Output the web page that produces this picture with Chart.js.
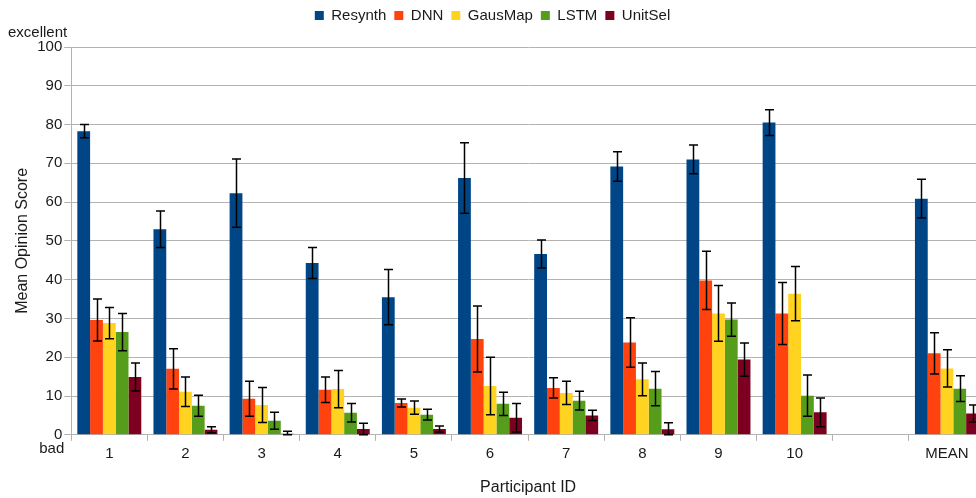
<!DOCTYPE html>
<html>
<head>
<meta charset="utf-8">
<script src="https://cdn.jsdelivr.net/npm/chart.js@4/dist/chart.umd.min.js"></script>
<style>
  html, body { margin: 0; padding: 0; background: #fff; overflow: hidden; }
  #wrap { width: 995px; height: 498px; }
</style>
</head>
<body>
<div id="wrap"><canvas id="mos" width="995" height="498"></canvas></div>
<script>
const participants = ['1', '2', '3', '4', '5', '6', '7', '8', '9', '10', '', 'MEAN'];

const resynth    = [78.3, 53.0, 62.3, 44.3, 35.5, 66.2, 46.6, 69.2, 71.0, 80.5, null, 60.9];
const resynthErr = [1.7, 4.7, 8.8, 4.0, 7.1, 9.1, 3.6, 3.8, 3.7, 3.3, null, 5.0];
const dnn        = [29.6, 17.0, 9.3, 11.6, 8.2, 24.7, 12.1, 23.8, 39.8, 31.3, null, 21.0];
const dnnErr     = [5.4, 5.2, 4.5, 3.3, 1.0, 8.5, 2.6, 6.4, 7.5, 8.0, null, 5.3];
const gausMap    = [28.8, 11.1, 7.7, 11.8, 7.0, 12.6, 10.8, 14.3, 31.3, 36.4, null, 17.1];
const gausMapErr = [4.0, 3.8, 4.5, 4.8, 1.7, 7.4, 3.0, 4.2, 7.2, 7.0, null, 4.8];
const lstm       = [26.5, 7.5, 3.6, 5.7, 5.2, 8.0, 8.8, 11.9, 29.7, 10.1, null, 11.9];
const lstmErr    = [4.8, 2.7, 2.2, 2.4, 1.4, 3.0, 2.4, 4.4, 4.3, 5.3, null, 3.3];
const unitSel    = [14.9, 1.3, 0.3, 1.5, 1.5, 4.4, 5.0, 1.4, 19.4, 5.8, null, 5.5];
const unitSelErr = [3.6, 0.8, 0.6, 1.5, 0.8, 3.7, 1.3, 1.7, 4.3, 3.7, null, 2.2];

const FONT = "'Liberation Sans', Arial, sans-serif";

// whiskers for +/- error, positioned with the y scale
const errorBars = {
  id: 'errorBars',
  afterDatasetsDraw(chart) {
    const ctx = chart.ctx;
    const y = chart.scales.y;
    ctx.save();
    ctx.strokeStyle = '#000';
    ctx.lineWidth = 1.5;
    chart.data.datasets.forEach((ds, i) => {
      const meta = chart.getDatasetMeta(i);
      meta.data.forEach((bar, j) => {
        const v = ds.data[j], e = ds.errors[j];
        if (v == null || e == null) return;
        const top = y.getPixelForValue(v + e);
        const bot = y.getPixelForValue(Math.max(0, v - e));
        const x = Math.round(bar.x) + 0.5;
        ctx.beginPath();
        ctx.moveTo(x, top); ctx.lineTo(x, bot);
        ctx.moveTo(x - 4.5, top); ctx.lineTo(x + 4.5, top);
        ctx.moveTo(x - 4.5, bot); ctx.lineTo(x + 4.5, bot);
        ctx.stroke();
      });
    });
    ctx.restore();
  }
};

// "excellent" / "bad" anchors at the ends of the rating scale
const scaleEnds = {
  id: 'scaleEnds',
  afterDraw(chart) {
    const ctx = chart.ctx;
    const y = chart.scales.y;
    const left = chart.chartArea.left;
    ctx.save();
    ctx.font = '15px ' + FONT;
    ctx.fillStyle = '#1a1a1a';
    ctx.textAlign = 'right';
    ctx.textBaseline = 'middle';
    ctx.fillText('excellent', left - 4, y.getPixelForValue(100) - 14);
    ctx.fillText('bad', left - 7, y.getPixelForValue(0) + 14);
    ctx.restore();
  }
};

// extra room between legend and plot
const legendGap = {
  id: 'legendGap',
  beforeInit(chart) {
    const fit = chart.legend.fit;
    chart.legend.fit = function () {
      fit.bind(chart.legend)();
      this.height += 14;
    };
  }
};

const series = [
  { label: 'Resynth', data: resynth, errors: resynthErr, color: '#004586' },
  { label: 'DNN', data: dnn, errors: dnnErr, color: '#ff420e' },
  { label: 'GausMap', data: gausMap, errors: gausMapErr, color: '#ffd320' },
  { label: 'LSTM', data: lstm, errors: lstmErr, color: '#579d1c' },
  { label: 'UnitSel', data: unitSel, errors: unitSelErr, color: '#7e0021' }
];

new Chart(document.getElementById('mos'), {
  type: 'bar',
  data: {
    labels: participants,
    datasets: series.map(s => ({
      label: s.label,
      data: s.data,
      errors: s.errors,
      backgroundColor: s.color,
      borderWidth: 0,
      categoryPercentage: 0.84,
      barPercentage: 1.0
    }))
  },
  options: {
    responsive: false,
    animation: false,
    layout: { padding: { left: 0, right: 10, top: 0, bottom: 1 } },
    plugins: {
      legend: {
        position: 'top',
        labels: {
          boxWidth: 9,
          boxHeight: 9,
          padding: 8,
          color: '#1a1a1a',
          font: { family: FONT, size: 15 }
        }
      },
      tooltip: { enabled: false }
    },
    scales: {
      x: {
        grid: {
          offset: true,
          drawOnChartArea: false,
          drawTicks: true,
          tickLength: 6,
          color: '#b3b3b3'
        },
        border: { color: '#b3b3b3', width: 1 },
        ticks: { color: '#1a1a1a', padding: 4, font: { family: FONT, size: 15 } },
        title: {
          display: true,
          text: 'Participant ID',
          color: '#1a1a1a',
          padding: { top: 11, bottom: 0 },
          font: { family: FONT, size: 16 }
        }
      },
      y: {
        min: 0,
        max: 100,
        ticks: { stepSize: 10, color: '#1a1a1a', padding: 2, font: { family: FONT, size: 15 } },
        grid: { color: '#b3b3b3', tickLength: 7, lineWidth: 1 },
        border: { color: '#b3b3b3', width: 1 },
        title: {
          display: true,
          text: 'Mean Opinion Score',
          color: '#1a1a1a',
          padding: { top: 13, bottom: 3 },
          font: { family: FONT, size: 16 }
        }
      }
    }
  },
  plugins: [errorBars, scaleEnds, legendGap]
});
</script>
</body>
</html>
